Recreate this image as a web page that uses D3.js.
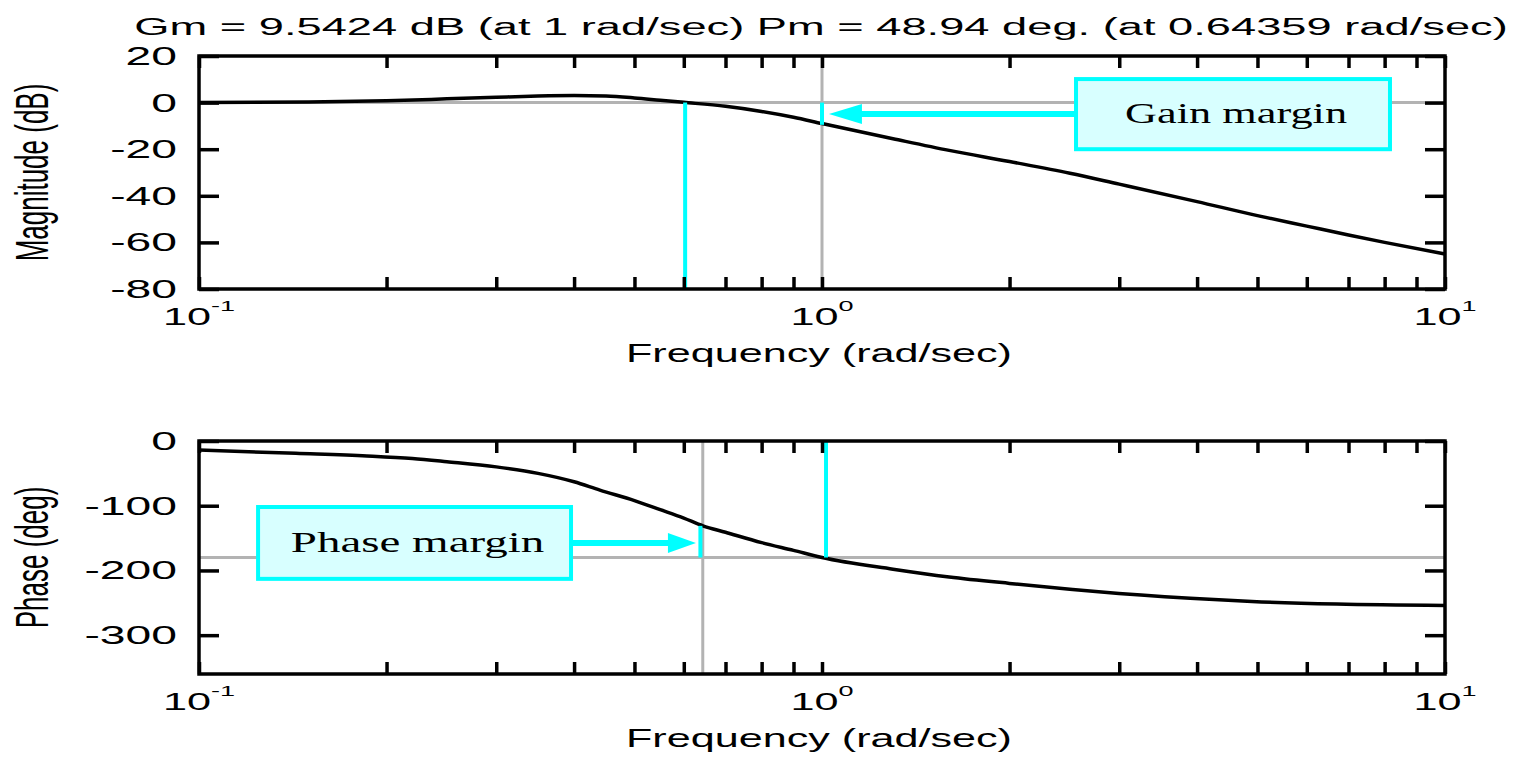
<!DOCTYPE html>
<html lang="en">
<head>
<meta charset="UTF-8"/>
<title>Bode plot with margins</title>
<script src="https://d3js.org/d3.v7.min.js"></script>
<style>
    body { margin: 0; background: #fff; }
    svg text { font-family: "Liberation Sans", Arial, sans-serif; fill: #000; }
    svg text.serif { font-family: "Liberation Serif", "Times New Roman", serif; }
</style>
</head>
<body>
<script>
    // values
    var magFreq  = [0.1, 0.15, 0.2, 0.25, 0.3, 0.35, 0.4, 0.45, 0.5, 0.55, 0.6, 0.7, 0.8, 0.9, 1.0, 1.3, 1.6, 2, 2.5, 3, 4, 5, 6, 7, 8, 10];
    var magDb    = [0, 0.3, 0.8, 1.6, 2.3, 2.8, 3.0, 2.8, 2.0, 1.0, 0.1, -1.6, -3.8, -6.3, -9.0, -15.5, -20.5, -25.3, -30.3, -35.0, -42.5, -48.5, -53.0, -56.8, -60.0, -65.0];
    var phaseFreq = [0.1, 0.143, 0.186, 0.22, 0.25, 0.3, 0.35, 0.4, 0.44, 0.5, 0.55, 0.6, 0.644, 0.7, 0.8, 0.9, 1.0, 1.3, 1.6, 2, 2.5, 2.78, 3.9, 4.9, 6.7, 10];
    var phaseDeg  = [-14, -19, -23, -27, -32, -40, -50, -63, -76, -92, -106, -119, -131, -141, -157, -169, -180, -198, -210, -220, -229, -233, -243, -248, -252, -254];

    var decadeTicks = [0.1, 1, 10];
    var minorTicks = [0.2, 0.3, 0.4, 0.5, 0.6, 0.7, 0.8, 0.9, 2, 3, 4, 5, 6, 7, 8, 9];
    var magTicks = [20, 0, -20, -40, -60, -80];
    var phaseTicks = [0, -100, -200, -300];

    var gm = 9.5424, gmFreq = 1;
    var pm = 48.94, pmFreq = 0.64359;
    var gainCrossDrawn = 0.603;   // where the cyan line sits in the magnitude plot
    var phaseCrossDrawn = 1.015;  // where the cyan line sits in the phase plot

    var w = 1518, h = 757;
    var left = 199, right = 1445;

    var svg = d3.select("body").append("svg")
        .attr("width", w)
        .attr("height", h);

    var x = d3.scaleLog().domain([0.1, 10]).range([left, right]);
    var yMag = d3.scaleLinear().domain([-80, 20]).range([289, 56]);
    var yPh = d3.scaleLinear().domain([-360, 0]).range([674, 441]);

    var allTicks = decadeTicks.concat(minorTicks);

    function stretched(parent, px, py, sx, size, anchor) {
        return parent.append("text")
            .attr("transform", "translate(" + px + "," + py + ") scale(" + sx + ",1)")
            .attr("font-size", size)
            .attr("text-anchor", anchor);
    }

    function grayLine(x1, y1, x2, y2) {
        svg.append("line")
            .attr("x1", x1).attr("y1", y1).attr("x2", x2).attr("y2", y2)
            .attr("stroke", "#b3b3b3")
            .attr("stroke-width", 3);
    }

    function cyanLine(x1, y1, x2, y2, sw) {
        svg.append("line")
            .attr("x1", x1).attr("y1", y1).attr("x2", x2).attr("y2", y2)
            .attr("stroke", "#00ffff")
            .attr("stroke-width", sw || 4);
    }

    function drawFrame(y) {
        var top = y.range()[1], bottom = y.range()[0];
        var yTicks = (y === yMag) ? magTicks : phaseTicks;

        svg.append("g")
            .attr("transform", "translate(0," + bottom + ")")
            .call(d3.axisBottom(x).tickValues(allTicks).tickSize(-12).tickSizeOuter(0).tickFormat(""));
        svg.append("g")
            .attr("transform", "translate(0," + top + ")")
            .call(d3.axisTop(x).tickValues(allTicks).tickSize(-12).tickSizeOuter(0).tickFormat(""));
        svg.append("g")
            .attr("transform", "translate(" + left + ",0)")
            .call(d3.axisLeft(y).tickValues(yTicks).tickSize(-20).tickSizeOuter(0).tickFormat(""));
        svg.append("g")
            .attr("transform", "translate(" + right + ",0)")
            .call(d3.axisRight(y).tickValues(yTicks).tickSize(-20).tickSizeOuter(0).tickFormat(""));

        svg.selectAll(".domain").remove();
        svg.selectAll(".tick line").attr("stroke", "#000").attr("stroke-width", 3.5);

        svg.append("rect")
            .attr("x", left).attr("y", top)
            .attr("width", right - left).attr("height", bottom - top)
            .attr("fill", "none")
            .attr("stroke", "#000")
            .attr("stroke-width", 3.5);

        // y tick labels
        yTicks.forEach(function(v) {
            stretched(svg, 177, y(v) + 9, 1.85, 25, "end").text(v);
        });

        // x tick labels 10^n
        decadeTicks.forEach(function(v) {
            var t = stretched(svg, x(v), bottom + 36, 1.8, 24, "middle");
            t.append("tspan").text("10");
            t.append("tspan").attr("dy", -14).attr("font-size", 15)
                .text(Math.round(Math.log10(v)));
        });

        stretched(svg, 819, bottom + 73, 1.66, 26, "middle").text("Frequency (rad/sec)");
    }

    function arrowHead(tipX, tipY, len, half, dir) {
        var pts = [[tipX, tipY], [tipX + dir * len, tipY - half], [tipX + dir * len, tipY + half]];
        svg.append("path")
            .attr("d", d3.line()(pts) + "Z")
            .attr("fill", "#00ffff");
    }

    function noteBox(w0, w1, v0, v1, y, label, sx) {
        var bx = x(w0), by = y(v0);
        var bw = x(w1) - bx, bh = y(v1) - by;
        svg.append("rect")
            .attr("x", bx).attr("y", by)
            .attr("width", bw).attr("height", bh)
            .attr("fill", "#d8ffff")
            .attr("stroke", "#00ffff")
            .attr("stroke-width", 4);
        stretched(svg, bx + bw / 2 + 3, by + bh / 2 + 9, sx, 29, "middle")
            .attr("class", "serif")
            .text(label);
    }

    // ---- magnitude plot ----
    grayLine(left, yMag(0), right, yMag(0));
    grayLine(x(gmFreq), yMag(20), x(gmFreq), yMag(-80));

    var magLine = d3.line()
        .x(function(d, i) { return x(magFreq[i]); })
        .y(function(d) { return yMag(d); })
        .curve(d3.curveMonotoneX);

    svg.append("path")
        .datum(magDb)
        .attr("d", magLine)
        .attr("fill", "none")
        .attr("stroke", "#000")
        .attr("stroke-width", 3.5);

    cyanLine(x(gainCrossDrawn), yMag(0), x(gainCrossDrawn), yMag(-80));
    cyanLine(x(gmFreq), yMag(0), x(gmFreq), yMag(-gm));

    // gain margin arrow + box
    var gTipX = x(1.026), gArrowY = yMag(-4.9);
    cyanLine(gTipX + 20, gArrowY, x(2.557), gArrowY, 6);
    arrowHead(gTipX, gArrowY, 33, 10, 1);
    noteBox(2.557, 8.16, 10.1, -20, yMag, "Gain margin", 1.53);

    // ---- phase plot ----
    grayLine(left, yPh(-180), right, yPh(-180));
    grayLine(x(pmFreq), yPh(0), x(pmFreq), yPh(-360));

    var phLine = d3.line()
        .x(function(d, i) { return x(phaseFreq[i]); })
        .y(function(d) { return yPh(d); })
        .curve(d3.curveMonotoneX);

    svg.append("path")
        .datum(phaseDeg)
        .attr("d", phLine)
        .attr("fill", "none")
        .attr("stroke", "#000")
        .attr("stroke-width", 3.5);

    cyanLine(x(phaseCrossDrawn), yPh(0), x(phaseCrossDrawn), yPh(-180));
    cyanLine(x(0.638), yPh(-180), x(0.638), yPh(-180 + pm));

    // phase margin arrow + box
    var pTipX = x(0.6275), pArrowY = yPh(-157.6);
    cyanLine(x(0.3955), pArrowY, pTipX - 15, pArrowY, 6);
    arrowHead(pTipX, pArrowY, 28, 10, -1);
    noteBox(0.1244, 0.3955, -102, -213, yPh, "Phase margin", 1.62);

    drawFrame(yMag);
    drawFrame(yPh);

    // title and y labels
    stretched(svg, 821, 35, 1.886, 24, "middle")
        .text("Gm = " + gm + " dB (at " + gmFreq + " rad/sec) Pm = " + pm + " deg. (at " + pmFreq + " rad/sec)");

    svg.append("text")
        .attr("transform", "translate(48," + ((yMag(20) + yMag(-80)) / 2) + ") scale(1.75,1) rotate(-90)")
        .attr("font-size", 26)
        .attr("text-anchor", "middle")
        .text("Magnitude (dB)");

    svg.append("text")
        .attr("transform", "translate(48," + ((yPh(0) + yPh(-360)) / 2) + ") scale(1.75,1) rotate(-90)")
        .attr("font-size", 26)
        .attr("text-anchor", "middle")
        .text("Phase (deg)");
</script>
</body>
</html>
